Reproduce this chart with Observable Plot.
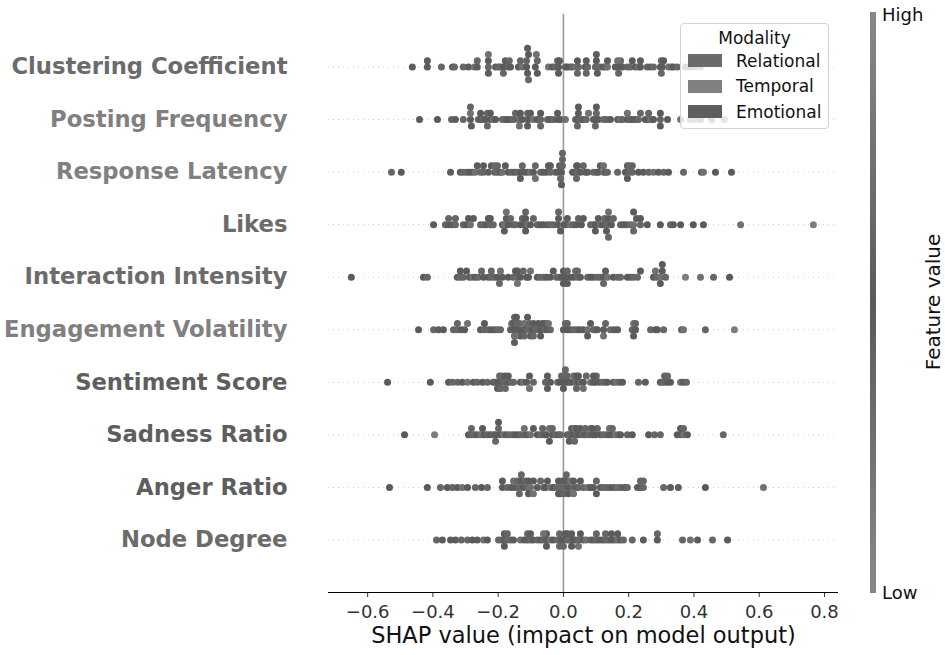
<!DOCTYPE html>
<html>
<head>
<meta charset="utf-8">
<script src="https://cdn.jsdelivr.net/npm/d3@7"></script>
<script src="https://cdn.jsdelivr.net/npm/@observablehq/plot@0.6"></script>
<style>
  html, body { margin: 0; padding: 0; background: #fff; }
  #wrap { position: relative; width: 945px; height: 655px; font-family: "DejaVu Sans", sans-serif; }
  #legend { position: absolute; left: 680px; top: 23px; width: 149px; height: 106px; box-sizing: border-box;
            border: 1px solid #d3d3d3; border-radius: 4px; background: rgba(255,255,255,0.8); color: #111; font-size: 17px; }
  #legend .title { text-align: center; margin-top: 4px; line-height: 20px; }
  #legend .row { display: flex; align-items: center; height: 25.5px; }
  #legend .patch { width: 34px; height: 13px; margin-left: 7px; margin-right: 14px; }
  #cbar { position: absolute; left: 870px; top: 12px; width: 6px; height: 581px; }
  .cblab { position: absolute; font-size: 18px; color: #111; }
  #cbtitle { position: absolute; left: 933px; top: 302px; font-size: 20px; color: #111; white-space: nowrap;
             transform: translate(-50%, -50%) rotate(-90deg); }
</style>
</head>
<body>
<div id="wrap"></div>
<script>
// ---------------- data ----------------
const features = ["Clustering Coefficient","Posting Frequency","Response Latency","Likes","Interaction Intensity",
                  "Engagement Volatility","Sentiment Score","Sadness Ratio","Anger Ratio","Node Degree"];
const featureModality = ["Relational","Temporal","Temporal","Relational","Relational",
                         "Temporal","Emotional","Emotional","Emotional","Relational"];
const modalities = ["Relational","Temporal","Emotional"];
const modalityColors = ["#6b6b6b","#808080","#5e5e5e"];
const xTicks = [-0.6,-0.4,-0.2,0.0,0.2,0.4,0.6,0.8];
const xLabel = "SHAP value (impact on model output)";
const colorbarLabels = ["High","Low"];
const colorbarTitle = "Feature value";

const shapClustering = [-0.463,-0.417,-0.417,-0.374,-0.340,-0.334,-0.307,-0.291,-0.273,-0.264,
 -0.264,-0.230,-0.230,-0.230,-0.230,-0.208,-0.199,-0.193,-0.184,-0.178,
 -0.169,-0.162,-0.138,-0.132,-0.126,-0.113,-0.113,-0.110,-0.107,-0.107,
 -0.086,-0.080,-0.080,-0.046,-0.034,-0.025,-0.018,-0.015,-0.012,0.006,
 0.012,0.021,0.028,0.040,0.043,0.046,0.067,0.070,0.074,0.098,
 0.101,0.104,0.113,0.123,0.129,0.135,0.159,0.169,0.175,0.181,
 0.196,0.205,0.211,0.221,0.230,0.236,0.257,0.267,0.276,0.297,
 0.300,0.303,0.307,0.322,0.331,0.337,0.349,0.374,0.389,0.405,0.420,
 -0.184,-0.166,-0.110,-0.083,-0.015,0.043,0.070,0.101,0.166,0.166,0.169,0.300,0.236,0.135];
const shapPosting = [-0.441,-0.386,-0.343,-0.331,-0.307,-0.285,-0.285,-0.282,-0.261,-0.254,
 -0.245,-0.239,-0.233,-0.224,-0.215,-0.208,-0.187,-0.178,-0.172,-0.162,
 -0.153,-0.147,-0.138,-0.135,-0.132,-0.126,-0.110,-0.110,-0.107,-0.101,
 -0.092,-0.080,-0.070,-0.070,-0.049,-0.040,-0.031,-0.018,-0.009,0.006,
 0.037,0.043,0.046,0.052,0.061,0.070,0.077,0.092,0.098,0.101,
 0.107,0.123,0.132,0.144,0.166,0.175,0.181,0.196,0.205,0.211,
 0.221,0.230,0.236,0.251,0.261,0.267,0.276,0.297,0.297,0.319,
 0.359,0.389,0.405,0.420,0.454,0.493,
 -0.285,-0.254,-0.233,-0.224,-0.135,-0.110,-0.070,-0.018,0.043,0.046,0.098,0.101,0.196,0.261,0.297];
const shapLatency = [-0.527,-0.497,-0.346,-0.316,-0.307,-0.297,-0.288,-0.279,-0.270,-0.264,
 -0.254,-0.245,-0.230,-0.221,-0.211,-0.202,-0.193,-0.187,-0.178,-0.169,
 -0.159,-0.150,-0.141,-0.132,-0.126,-0.120,-0.110,-0.101,-0.092,-0.086,
 -0.070,-0.061,-0.052,-0.046,-0.040,-0.025,-0.018,-0.012,-0.006,-0.003,
 0.028,0.034,0.040,0.043,0.052,0.061,0.067,0.074,0.092,0.101,
 0.107,0.113,0.123,0.129,0.135,0.166,0.190,0.196,0.202,0.211,
 0.230,0.245,0.261,0.276,0.291,0.307,0.322,0.368,0.423,0.429,
 0.466,0.515,-0.009,-0.003,
 -0.245,-0.211,-0.202,-0.132,-0.086,-0.040,-0.006,-0.003,0.040,0.043,0.123,0.196,0.202,0.211];
const shapLikes = [-0.398,-0.362,-0.352,-0.340,-0.331,-0.307,-0.297,-0.291,-0.285,-0.276,
 -0.254,-0.245,-0.236,-0.230,-0.224,-0.215,-0.187,-0.181,-0.175,-0.169,
 -0.162,-0.153,-0.147,-0.132,-0.126,-0.120,-0.116,-0.110,-0.101,-0.092,
 -0.080,-0.070,-0.061,-0.049,-0.040,-0.031,-0.018,-0.015,-0.009,0.000,
 0.006,0.012,0.021,0.031,0.040,0.046,0.055,0.061,0.083,0.092,
 0.098,0.107,0.113,0.120,0.126,0.132,0.138,0.147,0.153,0.175,
 0.184,0.193,0.205,0.215,0.224,0.236,0.257,0.297,0.328,0.337,
 0.359,0.398,0.429,0.543,0.766,
 -0.352,-0.331,-0.224,-0.181,-0.175,-0.116,-0.116,-0.015,0.098,0.132,0.138,0.138,0.215,0.215,0.236];
const shapInteraction = [-0.650,-0.429,-0.417,-0.325,-0.316,-0.307,-0.297,-0.288,-0.279,-0.270,
 -0.261,-0.251,-0.245,-0.230,-0.221,-0.211,-0.202,-0.193,-0.187,-0.169,
 -0.153,-0.147,-0.141,-0.132,-0.123,-0.113,-0.107,-0.101,-0.080,-0.070,
 -0.061,-0.052,-0.040,-0.031,-0.021,-0.012,-0.006,0.000,0.006,0.012,
 0.021,0.031,0.037,0.043,0.052,0.074,0.083,0.092,0.104,0.113,
 0.123,0.129,0.135,0.153,0.166,0.175,0.196,0.205,0.215,0.227,
 0.236,0.276,0.285,0.297,0.303,0.313,0.374,0.420,0.460,0.509,
 -0.316,-0.221,-0.196,-0.141,-0.141,0.000,0.012,0.043,0.123,0.282,0.297,0.303];
const shapVolatility = [-0.444,-0.398,-0.383,-0.368,-0.337,-0.325,-0.313,-0.303,-0.294,-0.254,
 -0.242,-0.230,-0.221,-0.211,-0.202,-0.193,-0.162,-0.159,-0.156,-0.153,
 -0.150,-0.147,-0.144,-0.138,-0.135,-0.132,-0.123,-0.120,-0.116,-0.110,
 -0.104,-0.101,-0.095,-0.092,-0.086,-0.080,-0.077,-0.070,-0.064,-0.058,
 -0.055,-0.049,-0.046,-0.040,0.000,0.006,0.012,0.021,0.031,0.040,
 0.049,0.061,0.074,0.083,0.092,0.098,0.104,0.123,0.129,0.144,
 0.156,0.166,0.211,0.215,0.221,0.267,0.282,0.288,0.307,0.362,
 0.368,0.435,0.524,
 -0.325,-0.242,-0.150,-0.150,-0.147,-0.144,-0.120,-0.110,-0.092,-0.070,0.012,0.074,0.123,0.221,0.215];
const shapSentiment = [-0.539,-0.408,-0.352,-0.340,-0.325,-0.310,-0.294,-0.276,-0.264,-0.248,
 -0.233,-0.215,-0.208,-0.202,-0.196,-0.193,-0.190,-0.184,-0.178,-0.169,
 -0.159,-0.153,-0.132,-0.123,-0.113,-0.104,-0.092,-0.055,-0.049,-0.040,
 -0.018,-0.012,-0.006,0.000,0.006,0.009,0.012,0.018,0.025,0.031,
 0.037,0.040,0.046,0.052,0.061,0.070,0.083,0.092,0.098,0.101,
 0.110,0.120,0.129,0.135,0.153,0.162,0.172,0.181,0.230,0.251,
 0.297,0.303,0.310,0.319,0.328,0.359,0.368,0.377,
 -0.202,-0.193,-0.178,-0.169,-0.104,-0.049,0.000,0.006,0.040,0.046,0.061,0.092,0.310,0.319];
const shapSadness = [-0.487,-0.395,-0.291,-0.282,-0.273,-0.264,-0.254,-0.242,-0.233,-0.224,
 -0.215,-0.208,-0.199,-0.193,-0.184,-0.175,-0.166,-0.156,-0.147,-0.138,
 -0.129,-0.120,-0.110,-0.101,-0.092,-0.080,-0.070,-0.064,-0.058,-0.052,
 -0.043,-0.034,-0.025,-0.015,-0.009,0.012,0.018,0.025,0.028,0.034,
 0.040,0.046,0.052,0.058,0.067,0.077,0.083,0.089,0.098,0.104,
 0.113,0.123,0.132,0.141,0.150,0.159,0.169,0.175,0.196,0.211,
 0.261,0.279,0.297,0.349,0.359,0.368,0.380,0.490,
 -0.282,-0.248,-0.208,-0.199,-0.120,-0.043,-0.034,0.018,0.034,0.040,0.067,0.089,0.141,0.150,0.359,0.368];
const shapAnger = [-0.533,-0.417,-0.377,-0.356,-0.340,-0.325,-0.310,-0.294,-0.270,-0.251,
 -0.233,-0.187,-0.172,-0.159,-0.153,-0.147,-0.141,-0.135,-0.129,-0.123,
 -0.116,-0.110,-0.107,-0.101,-0.092,-0.080,-0.070,-0.061,-0.055,-0.049,
 -0.040,-0.031,-0.021,-0.015,-0.009,-0.003,0.003,0.009,0.015,0.021,
 0.028,0.031,0.040,0.046,0.052,0.061,0.074,0.083,0.092,0.101,
 0.113,0.123,0.132,0.144,0.156,0.166,0.175,0.187,0.196,0.227,
 0.236,0.245,0.307,0.328,0.352,0.435,0.613,
 -0.187,-0.135,-0.129,-0.107,-0.092,-0.015,-0.009,0.000,0.009,0.015,0.031,0.101,0.236,0.245];
const shapDegree = [-0.389,-0.371,-0.346,-0.331,-0.313,-0.294,-0.279,-0.264,-0.245,-0.233,
 -0.199,-0.190,-0.181,-0.181,-0.172,-0.162,-0.153,-0.132,-0.120,-0.110,
 -0.101,-0.092,-0.080,-0.070,-0.061,-0.052,-0.052,-0.040,-0.031,-0.018,
 -0.012,-0.006,0.000,0.006,0.012,0.018,0.025,0.031,0.037,0.046,
 0.052,0.061,0.070,0.083,0.092,0.101,0.110,0.120,0.129,0.138,
 0.147,0.156,0.166,0.175,0.184,0.211,0.245,0.288,0.288,0.365,
 0.389,0.411,0.457,0.503,
 -0.181,-0.172,-0.110,-0.101,-0.061,-0.052,-0.012,0.000,0.012,0.025,0.046,0.101,0.129,0.147,0.166];

// feature values (0..9 = low..high), estimated from the dot shades
const fvClustering = [5,5,4,6,5,3,6,4,7,5,3,6,4,5,7,5,3,6,4,5,6,4,5,3,7,5,6,4,5,3,5,6,4,7,5,3,6,4,5,6,4,5,3,7,5,6,4,5,3,6,5,4,6,5,3,7,5,4,6,5,3,6,4,5,7,5,6,4,3,5,6,4,5,7,3,5,6,4,5,2,8, 3,6,4,7,5,3,6,4,5,7,3,6,4,5];
const fvPosting = [5,4,6,5,3,5,7,4,6,5,3,5,6,4,7,5,3,6,5,4,6,3,5,7,4,5,6,3,5,4,7,5,6,4,3,5,6,4,5,7,3,5,4,6,5,3,7,5,4,6,5,3,6,4,5,7,3,5,6,4,5,6,3,5,4,7,5,6,4,5,2,8,1,7,2,8, 6,4,3,5,7,4,6,5,3,4,6,5,7,3,4];
const fvLatency = [6,5,4,5,3,6,5,4,7,5,3,6,4,5,6,3,5,7,4,5,6,4,3,5,6,5,4,7,5,3,6,4,5,5,3,6,4,5,5,6,4,5,7,3,5,6,4,5,3,6,5,4,7,5,3,6,4,5,6,3,5,4,6,7,5,3,4,6,5,7,4,5,3,6, 4,6,3,5,7,4,5,6,3,4,7,5,6,3];
const fvLikes = [5,6,4,5,3,6,5,4,7,5,3,6,4,5,6,3,5,7,4,5,6,4,3,5,6,5,4,7,5,3,6,4,5,5,3,6,4,5,5,6,4,5,7,3,5,6,4,5,3,6,5,4,7,5,3,6,4,5,6,3,5,4,6,7,5,3,4,5,6,5,4,5,5,2,1, 6,3,5,4,7,5,3,6,4,5,7,3,6,4,5];
const fvInteraction = [5,4,6,5,3,6,4,5,7,5,3,6,4,5,6,3,5,7,4,5,6,4,3,5,6,5,4,7,5,3,6,4,5,5,3,6,4,5,5,6,4,5,7,3,5,6,4,5,3,6,5,4,7,5,3,6,4,5,6,3,5,4,6,7,5,3,8,7,6,5, 4,6,3,5,7,4,5,6,3,7,4,5];
const fvVolatility = [5,6,4,5,3,6,5,4,7,5,3,6,4,5,6,3,5,7,4,5,6,4,3,5,6,5,4,7,5,3,6,4,5,5,3,6,4,5,5,6,4,5,7,3,5,6,4,5,3,6,5,4,7,5,3,6,4,5,6,3,5,4,6,7,5,3,4,5,6,5,7,3,8, 6,4,3,5,7,4,6,5,3,4,6,5,7,3,4];
const fvSentiment = [5,5,4,6,3,5,7,4,6,5,3,5,6,4,7,5,3,6,5,4,6,3,5,7,4,5,6,3,5,4,7,5,6,4,3,5,6,4,5,7,3,5,4,6,5,3,7,5,4,6,5,3,6,4,5,7,3,5,6,4,5,6,3,5,4,7,5,6, 4,6,3,5,7,4,5,6,3,4,7,5,6,3];
const fvSadness = [5,8,4,6,3,5,7,4,6,5,3,5,6,4,7,5,3,6,5,4,6,3,5,7,4,5,6,3,5,4,7,5,6,4,3,5,6,4,5,7,3,5,4,6,5,3,7,5,4,6,5,3,6,4,5,7,3,5,6,4,5,6,3,5,4,7,5,3, 6,4,3,5,7,4,6,5,3,4,6,5,7,3,4,6];
const fvAnger = [5,5,6,4,3,5,7,4,6,5,3,5,6,4,7,5,3,6,5,4,6,3,5,7,4,5,6,3,5,4,7,5,6,4,3,5,6,4,5,7,3,5,4,6,5,3,7,5,4,6,5,3,6,4,5,7,3,5,6,4,5,6,3,5,4,5,7, 4,6,3,5,7,4,5,6,3,4,7,5,6,3];
const fvDegree = [6,5,4,5,3,6,5,4,7,5,3,6,4,5,6,3,5,7,4,5,6,4,3,5,6,5,4,7,5,3,6,4,5,5,3,6,4,5,5,6,4,5,7,3,5,6,4,5,3,6,5,4,7,5,3,6,4,5,6,3,7,5,6,4, 5,3,6,4,7,5,3,6,4,5,7,3,6,4,5];

// ---------------- build ----------------
const shapSeries = [shapClustering, shapPosting, shapLatency, shapLikes, shapInteraction,
                    shapVolatility, shapSentiment, shapSadness, shapAnger, shapDegree];
const fvSeries = [fvClustering, fvPosting, fvLatency, fvLikes, fvInteraction,
                  fvVolatility, fvSentiment, fvSadness, fvAnger, fvDegree];

// SHAP-style beeswarm layering: quantize into bins, stack alternately up/down
function swarm(vals) {
  const nb = 100, mn = d3.min(vals), mx = d3.max(vals);
  const q = vals.map(v => Math.round(nb * (v - mn) / (mx - mn + 1e-8)));
  const order = d3.range(vals.length).sort((a, b) => (q[a] - q[b]) || (a - b));
  const ys = new Array(vals.length).fill(0);
  let layer = 0, last = -1;
  for (const i of order) {
    if (q[i] !== last) layer = 0;
    ys[i] = Math.ceil(layer / 2) * ((layer % 2) * 2 - 1);
    layer++; last = q[i];
  }
  return ys.map(y => y * 0.12);
}

function grayOf(t) {
  const g = Math.round(0x55 + (0x88 - 0x55) * Math.abs(2 * t - 1));
  return d3.rgb(g, g, g).formatHex();
}

const points = [];
features.forEach((f, i) => {
  const vals = shapSeries[i], fv = fvSeries[i];
  const off = swarm(vals);
  vals.forEach((v, j) => points.push({feature: f, shap: v, yy: i - off[j], fv: (fv[j] ?? 5) / 9}));
});

const modColor = m => modalityColors[modalities.indexOf(m)];

const W = 945, H = 655;
const chart = Plot.plot({
  width: W, height: H,
  marginLeft: 328, marginRight: 107, marginTop: 14, marginBottom: 63,
  style: {fontFamily: "DejaVu Sans, sans-serif", fontSize: "18px", color: "#333", background: "transparent", overflow: "visible"},
  color: {type: "identity"},
  x: {domain: [-0.72, 0.843], ticks: xTicks, tickFormat: d3.format(".1f"), tickSize: 5, tickPadding: 8, label: null},
  y: {domain: [-1, features.length], reverse: true, axis: null},
  marks: [
    Plot.ruleY(d3.range(features.length), {y: d => d, stroke: "#cccccc", strokeWidth: 1, strokeDasharray: "1,4"}),
    Plot.ruleX([0], {stroke: "#999999", strokeWidth: 1.6}),
    Plot.dot(points, {x: "shap", y: "yy", r: 3.5, fill: d => grayOf(d.fv), stroke: null}),
    Plot.ruleY([features.length], {stroke: "#000", strokeWidth: 1}),
    Plot.text(features, {y: (d, i) => i, frameAnchor: "left", dx: -41, textAnchor: "end",
      fontWeight: "bold", fontSize: 22.7, fill: (d, i) => modColor(featureModality[i])}),
    Plot.text([xLabel], {frameAnchor: "bottom", dy: 50, fontSize: 22.5, fill: "#111"})
  ]
});

const wrap = document.getElementById("wrap");
wrap.appendChild(chart);

// legend box
const leg = document.createElement("div");
leg.id = "legend";
const t = document.createElement("div"); t.className = "title"; t.textContent = "Modality"; leg.appendChild(t);
modalities.forEach((m, i) => {
  const r = document.createElement("div"); r.className = "row";
  const p = document.createElement("div"); p.className = "patch"; p.style.background = modalityColors[i];
  const s = document.createElement("span"); s.textContent = m;
  r.appendChild(p); r.appendChild(s); leg.appendChild(r);
});
wrap.appendChild(leg);

// colorbar
const cb = document.createElement("div");
cb.id = "cbar";
cb.style.background = "linear-gradient(to bottom, #888888, #5a5a5a 50%, #888888)";
wrap.appendChild(cb);
[[colorbarLabels[0], 4], [colorbarLabels[1], 582]].forEach(([txt, top]) => {
  const l = document.createElement("div"); l.className = "cblab"; l.textContent = txt;
  l.style.left = "882px"; l.style.top = top + "px"; wrap.appendChild(l);
});
const cbt = document.createElement("div"); cbt.id = "cbtitle"; cbt.textContent = colorbarTitle; wrap.appendChild(cbt);
</script>
</body>
</html>
